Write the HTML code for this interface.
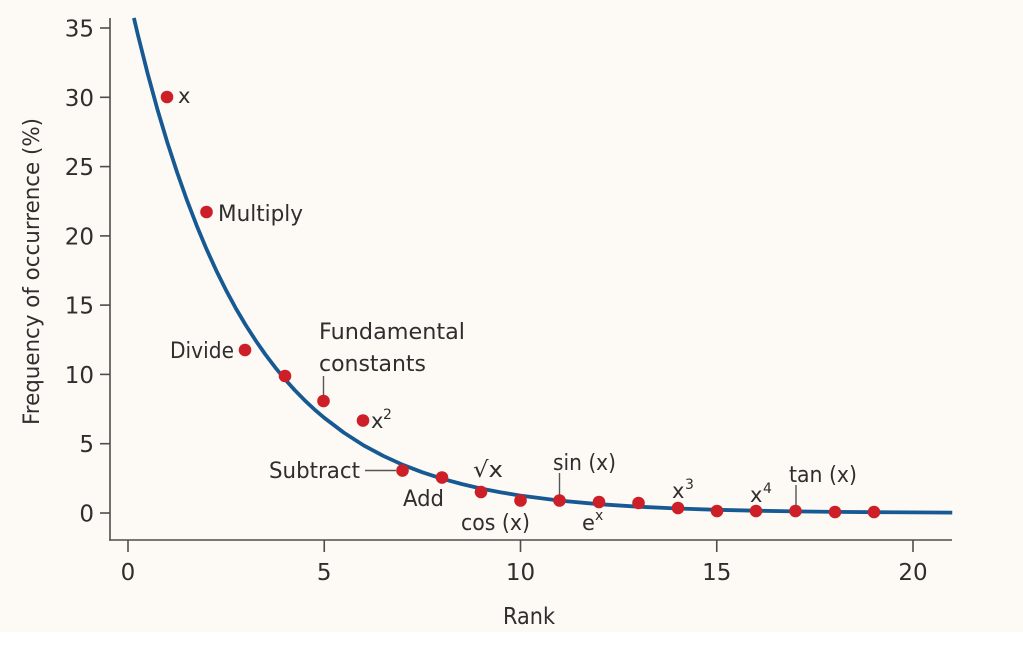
<!DOCTYPE html>
<html>
<head>
<meta charset="utf-8">
<style>
  html,body{margin:0;padding:0;background:#ffffff;}
  body{width:1023px;height:659px;overflow:hidden;}
  svg{display:block;}
  text{font-family:"DejaVu Sans","Liberation Sans",sans-serif;fill:#2e2e2e;}
</style>
</head>
<body>
<svg width="1023" height="659" viewBox="0 0 1023 659" xmlns="http://www.w3.org/2000/svg">
  <rect x="0" y="0" width="1023" height="632" fill="#fdfaf5"/>
  <rect x="0" y="632" width="1023" height="27" fill="#ffffff"/>

  <!-- axes -->
  <g stroke="#4d4d4d" stroke-width="1.6" fill="none">
    <line x1="110" y1="18" x2="110" y2="540.8"/>
    <line x1="109.2" y1="540" x2="952" y2="540"/>
    <line x1="100" y1="28" x2="110" y2="28"/>
    <line x1="100" y1="97.3" x2="110" y2="97.3"/>
    <line x1="100" y1="166.6" x2="110" y2="166.6"/>
    <line x1="100" y1="235.9" x2="110" y2="235.9"/>
    <line x1="100" y1="305.1" x2="110" y2="305.1"/>
    <line x1="100" y1="374.4" x2="110" y2="374.4"/>
    <line x1="100" y1="443.7" x2="110" y2="443.7"/>
    <line x1="100" y1="513" x2="110" y2="513"/>
    <line x1="128" y1="540" x2="128" y2="552"/>
    <line x1="324.25" y1="540" x2="324.25" y2="552"/>
    <line x1="520.5" y1="540" x2="520.5" y2="552"/>
    <line x1="716.75" y1="540" x2="716.75" y2="552"/>
    <line x1="913" y1="540" x2="913" y2="552"/>
  </g>

  <!-- y tick labels -->
  <g font-size="23" text-anchor="end">
    <text x="94" y="36.5">35</text>
    <text x="94" y="105.8">30</text>
    <text x="94" y="175.1">25</text>
    <text x="94" y="244.4">20</text>
    <text x="94" y="313.6">15</text>
    <text x="94" y="382.9">10</text>
    <text x="94" y="452.2">5</text>
    <text x="94" y="521.5">0</text>
  </g>
  <!-- x tick labels -->
  <g font-size="23" text-anchor="middle">
    <text x="128" y="580">0</text>
    <text x="324.25" y="580">5</text>
    <text x="520.5" y="580">10</text>
    <text x="716.75" y="580">15</text>
    <text x="913" y="580">20</text>
  </g>

  <!-- axis titles -->
  <text x="503" y="624" font-size="23" textLength="52" lengthAdjust="spacingAndGlyphs">Rank</text>
  <text transform="translate(39,425) rotate(-90)" x="0" y="0" font-size="22" textLength="307" lengthAdjust="spacingAndGlyphs">Frequency of occurrence (%)</text>

  <!-- fitted curve -->
  <polyline fill="none" stroke="#175a93" stroke-width="3.8" stroke-linejoin="round" stroke-linecap="butt"
    points="133.9,17.9 137.8,34.5 147.6,73.4 157.4,109.3 167.25,142.2 177.1,172.4 186.9,200.1 196.7,225.6 206.5,249.1 216.3,270.6 226.1,290.3 235.9,308.5 245.75,325.1 255.6,340.4 265.4,354.5 275.2,367.4 285,379.3 294.8,390.2 304.6,400.2 314.4,409.4 324.25,417.8 343.9,432.7 363.5,445.3 383.1,455.8 402.75,464.8 422.4,472.3 442,478.7 461.6,484.0 481.25,488.6 500.9,492.4 520.5,495.6 559.75,500.6 599,504.2 638.25,506.7 677.5,508.5 716.75,509.8 756,510.7 795.25,511.4 834.5,511.9 873.75,512.2 913,512.4 952.25,512.6"/>

  <!-- leader lines -->
  <g stroke="#555555" stroke-width="1.4" fill="none">
    <line x1="323.5" y1="376" x2="323.5" y2="396"/>
    <line x1="365" y1="470.5" x2="396" y2="470.5"/>
    <line x1="559.5" y1="473" x2="559.5" y2="495"/>
    <line x1="796" y1="485" x2="796" y2="506"/>
  </g>

  <!-- data points -->
  <g fill="#cc1f27">
    <circle cx="167" cy="97" r="6.3"/>
    <circle cx="206.5" cy="212" r="6.3"/>
    <circle cx="245" cy="350" r="6.3"/>
    <circle cx="285" cy="376" r="6.3"/>
    <circle cx="323.5" cy="401" r="6.3"/>
    <circle cx="363" cy="420.5" r="6.3"/>
    <circle cx="402.5" cy="470.5" r="6.3"/>
    <circle cx="442" cy="477.5" r="6.3"/>
    <circle cx="481" cy="492" r="6.3"/>
    <circle cx="520.5" cy="500.5" r="6.3"/>
    <circle cx="559.5" cy="500.5" r="6.3"/>
    <circle cx="599" cy="502" r="6.3"/>
    <circle cx="638.5" cy="503" r="6.3"/>
    <circle cx="678" cy="508" r="6.3"/>
    <circle cx="717" cy="511" r="6.3"/>
    <circle cx="756" cy="511" r="6.3"/>
    <circle cx="795.5" cy="511" r="6.3"/>
    <circle cx="835" cy="512" r="6.3"/>
    <circle cx="874" cy="512" r="6.3"/>
  </g>

  <!-- point labels -->
  <g font-size="22">
    <text x="178" y="103" font-size="21">x</text>
    <text x="218" y="221" textLength="85" lengthAdjust="spacingAndGlyphs">Multiply</text>
    <text x="170" y="358" textLength="64" lengthAdjust="spacingAndGlyphs">Divide</text>
    <text x="319" y="339" textLength="146" lengthAdjust="spacingAndGlyphs">Fundamental</text>
    <text x="319" y="371" textLength="107" lengthAdjust="spacingAndGlyphs">constants</text>
    <text x="371" y="428" font-size="21">x</text>
    <text x="383" y="419" font-size="14">2</text>
    <text x="269" y="478" textLength="91" lengthAdjust="spacingAndGlyphs">Subtract</text>
    <text x="403" y="506" textLength="41" lengthAdjust="spacingAndGlyphs">Add</text>
    <text x="473" y="477" textLength="30" lengthAdjust="spacingAndGlyphs">√x</text>
    <text x="461" y="530" textLength="69" lengthAdjust="spacingAndGlyphs">cos (x)</text>
    <text x="553" y="470" textLength="63" lengthAdjust="spacingAndGlyphs">sin (x)</text>
    <text x="582" y="530" font-size="21">e</text>
    <text x="595" y="520" font-size="14">x</text>
    <text x="672" y="498" font-size="21">x</text>
    <text x="685" y="489" font-size="14">3</text>
    <text x="750" y="502" font-size="21">x</text>
    <text x="763" y="493" font-size="14">4</text>
    <text x="789" y="482" textLength="68" lengthAdjust="spacingAndGlyphs">tan (x)</text>
  </g>
</svg>
</body>
</html>
